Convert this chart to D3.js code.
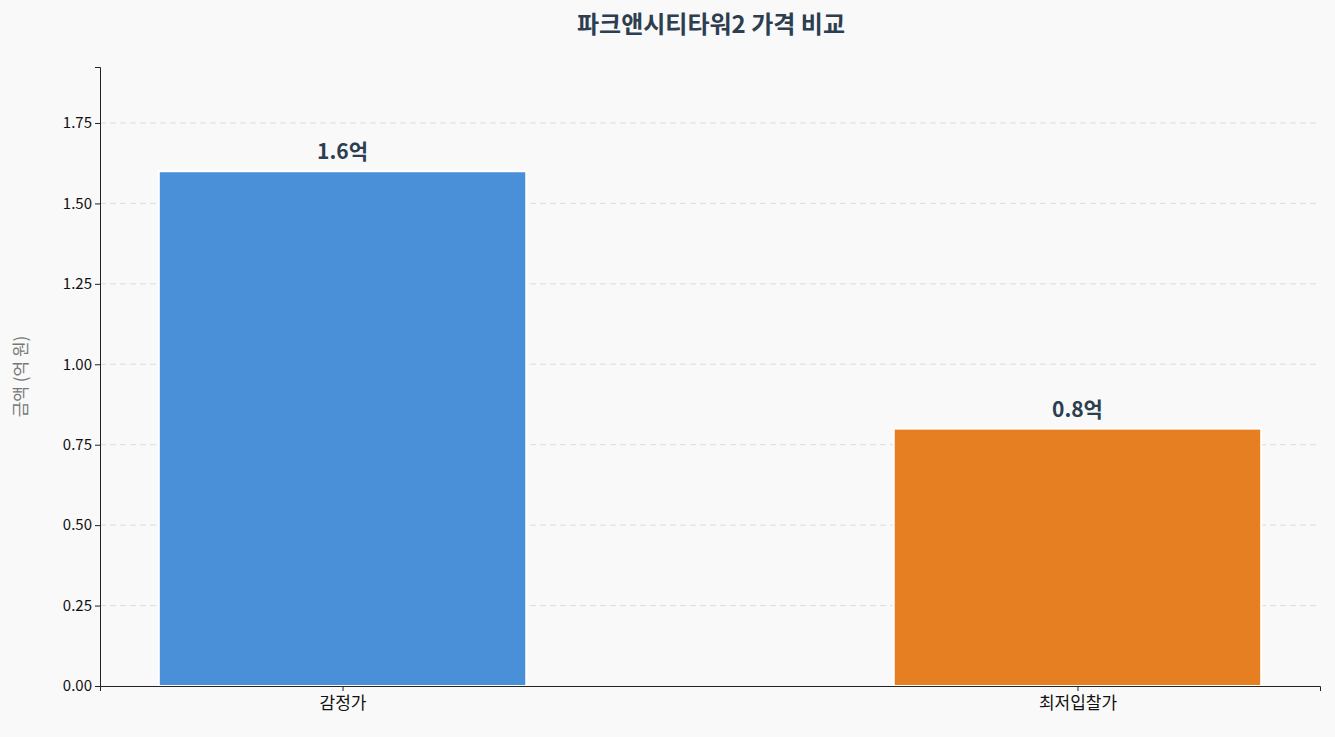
<!DOCTYPE html>
<html><head><meta charset="utf-8">
<script src="https://cdn.jsdelivr.net/npm/d3@7"></script>
<style>
body{margin:0;background:#f9f9f9;font-family:"Noto Sans CJK KR","Noto Sans",sans-serif;}
</style></head><body>
<svg id="chart" width="1335" height="737"></svg>
<script>
// data
var categories = ["감정가", "최저입찰가"];
var values = [1.6, 0.8];
var valueLabels = ["1.6억", "0.8억"];
var colors = ["#4a90d9", "#e67e22"];
var yTicks = [0, 0.25, 0.5, 0.75, 1.0, 1.25, 1.5, 1.75];

var margin = {top: 67, right: 15, bottom: 51, left: 100},
    width = 1335 - margin.left - margin.right,
    height = 737 - margin.top - margin.bottom;

var svg = d3.select("#chart");
svg.append("rect").attr("width", 1335).attr("height", 737).attr("fill", "#f9f9f9");
var g = svg.append("g").attr("transform", "translate(" + margin.left + "," + margin.top + ")");

var x = d3.scaleLinear().domain([-0.33, 1.33]).range([0, width]);
var y = d3.scaleLinear().domain([0, 1.924]).range([height, 0]);
var barW = x(0.5) - x(0);

// grid
g.selectAll(".grid").data(yTicks.slice(1)).enter().append("line")
    .attr("x1", 0).attr("x2", width)
    .attr("y1", function (d) { return y(d) }).attr("y2", function (d) { return y(d) })
    .attr("stroke", "#dddddd").attr("stroke-dasharray", "6,4").attr("stroke-width", 1);

// bars
g.selectAll(".bar").data(values).enter().append("rect")
    .attr("x", function (d, i) { return x(i) - barW / 2 })
    .attr("y", function (d) { return y(d) })
    .attr("width", barW)
    .attr("height", function (d) { return height - y(d) })
    .attr("fill", function (d, i) { return colors[i] })
    .attr("stroke", "#ffffff").attr("stroke-width", 2);

// value labels
g.selectAll(".lbl").data(values).enter().append("text")
    .attr("x", function (d, i) { return x(i) })
    .attr("y", function (d) { return y(d) - 12 })
    .attr("text-anchor", "middle")
    .attr("font-size", 21).attr("font-weight", "bold").attr("fill", "#2c3e50")
    .text(function (d, i) { return valueLabels[i] });

// axes
var yAxis = g.append("g").call(d3.axisLeft(y).tickValues(yTicks).tickFormat(d3.format(".2f")).tickSize(5));
var xAxis = g.append("g").attr("transform", "translate(0," + height + ")")
    .call(d3.axisBottom(x).tickValues([0, 1]).tickFormat(function (d) { return categories[d] }).tickSize(5));
[xAxis, yAxis].forEach(function (a) {
    a.select(".domain").attr("stroke", "#222");
    a.selectAll(".tick line").attr("stroke", "#222");
    a.selectAll("text").attr("font-size", 15).attr("fill", "#111")
        .attr("font-family", "'Noto Sans CJK KR','Noto Sans',sans-serif");
});
xAxis.selectAll("text").attr("font-size", 17).attr("dy", "0.9em");

// y label
svg.append("text").attr("transform", "translate(27," + (margin.top + height / 2) + ") rotate(-90)")
    .attr("text-anchor", "middle").attr("font-size", 17).attr("fill", "#777")
    .text("금액 (억 원)");

// title
svg.append("text").attr("x", 711).attr("y", 33).attr("text-anchor", "middle")
    .attr("font-size", 24).attr("font-weight", "bold").attr("fill", "#2c3e50")
    .text("파크앤시티타워2 가격 비교");
</script>
</body></html>
